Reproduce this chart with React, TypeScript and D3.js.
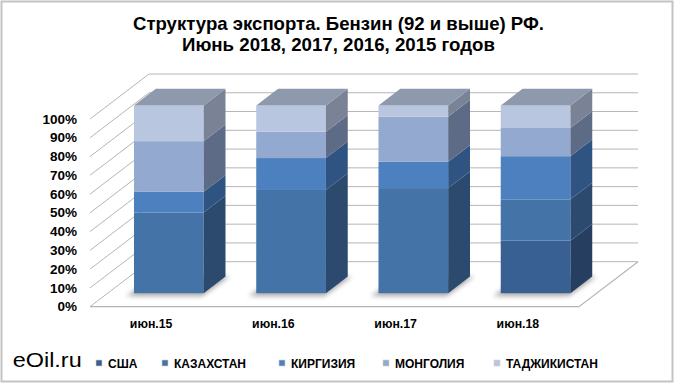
import React from 'react';
import * as d3 from 'd3';

// категории и доли экспорта, %
const categories = ['июн.15', 'июн.16', 'июн.17', 'июн.18'];
const seriesNames = ['США', 'КАЗАХСТАН', 'КИРГИЗИЯ', 'МОНГОЛИЯ', 'ТАДЖИКИСТАН'];
const usa = [0, 0, 0, 28];
const kazakhstan = [43, 55, 56, 22];
const kyrgyzstan = [11, 17, 14, 23];
const mongolia = [27, 14, 24, 15];
const tajikistan = [19, 14, 6, 12];
const yTicks = [0, 10, 20, 30, 40, 50, 60, 70, 80, 90, 100];

const frontColors = ['#386092', '#4473a8', '#4d80bf', '#94a9d0', '#b9c6e0'];
const sideColors = ['#263f60', '#2c4a6e', '#2f5482', '#5d6b86', '#7a8396'];
const legendX = [96, 162, 279, 383, 494];

const font = '"Liberation Sans", Arial, sans-serif';

const App = () => {
  const width = 680;
  const height = 385;
  const x0 = 90;
  const x1 = 579;
  const DX = 59;
  const DY = 45;
  const dFront = 0.3;
  const dBack = 0.67;

  const yScale = d3.scaleLinear().domain([0, 100]).range([306.7, 119]);
  const xScale = d3.scaleBand<string>()
    .domain(categories)
    .range([x0, x1])
    .paddingInner(0.43)
    .paddingOuter(0.215);
  const bw = xScale.bandwidth();

  const proj = (x: number, v: number, d: number): [number, number] =>
    [x + d * DX, yScale(v) - d * DY];
  const poly = (pts: [number, number][]) => pts.map(p => p.join(',')).join(' ');

  const series = [usa, kazakhstan, kyrgyzstan, mongolia, tajikistan];
  const rows = categories.map((c, i) => {
    const r: any = { cat: c };
    seriesNames.forEach((s, k) => { r[s] = series[k][i]; });
    return r;
  });
  const stacked = d3.stack<any>().keys(seriesNames)(rows);

  const grid = yTicks.map(v => {
    const a = proj(x0, v, 0);
    const b = proj(x0, v, 1);
    const c = proj(x1, v, 1);
    return (
      <g key={'g' + v}>
        <polyline points={poly([a, b, c])} fill="none" stroke="#b5b5b5" strokeWidth={1} />
        <text x={77} y={a[1] + 4.6} textAnchor="end" fontFamily={font} fontWeight="bold" fontSize={13.5} fill="#000">
          {v}%
        </text>
      </g>
    );
  });

  const floor = [proj(x0, 0, 0), proj(x1, 0, 0), proj(x1, 0, 1)];

  const bars = categories.map((c, i) => {
    const xl = xScale(c)!;
    const xr = xl + bw;
    const faces: React.ReactNode[] = [];
    let top = 0;
    stacked.forEach((layer, k) => {
      const [v0, v1] = layer[i];
      if (v1 - v0 <= 0) return;
      top = v1;
      const fl = proj(xl, v1, dFront);
      const fr = proj(xr, v0, dFront);
      faces.push(
        <rect key={'f' + k} x={fl[0]} y={fl[1]} width={fr[0] - fl[0]} height={fr[1] - fl[1]} fill={frontColors[k]} />
      );
      faces.push(
        <polygon key={'s' + k}
          points={poly([proj(xr, v0, dFront), proj(xr, v0, dBack), proj(xr, v1, dBack), proj(xr, v1, dFront)])}
          fill={sideColors[k]} />
      );
    });
    const shadow = [proj(xl - 4, 0, dFront - 0.06), proj(xr + 2, 0, dFront - 0.06), proj(xr + 4, 0, dBack), proj(xl, 0, dBack)];
    const lbl = proj(xl + bw / 2, 0, 0);
    return (
      <g key={c}>
        <polygon points={poly(shadow)} fill="#000" opacity={0.35} filter="url(#blur)" />
        {faces}
        <polygon
          points={poly([proj(xl, top, dFront), proj(xr, top, dFront), proj(xr, top, dBack), proj(xl, top, dBack)])}
          fill="#8f99ad" />
        <text x={lbl[0]} y={lbl[1] + 21.5} textAnchor="middle" fontFamily={font} fontWeight="bold" fontSize={12.3} fill="#000">
          {c}
        </text>
      </g>
    );
  });

  const legend = seriesNames.map((s, k) => (
    <g key={s}>
      <rect x={legendX[k]} y={360} width={6} height={6} fill={frontColors[k]} stroke="#d0d0d0" strokeWidth={0.6} />
      <text x={legendX[k] + 12} y={367.5} fontFamily={font} fontWeight="bold" fontSize={12} fill="#000">{s}</text>
    </g>
  ));

  return (
    <svg width={width} height={height} viewBox={`0 0 ${width} ${height}`}
      style={{ position: 'absolute', left: 0, top: 0, display: 'block' }}>
      <defs>
        <filter id="blur" x="-20%" y="-50%" width="140%" height="200%">
          <feGaussianBlur stdDeviation={2.5} />
        </filter>
      </defs>
      <rect x={0} y={0} width={width} height={height} fill="#fff" />
      <rect x={1.5} y={1.5} width={671} height={380} fill="none" stroke="#c3c3c3" strokeWidth={2} />
      <text x={338.5} y={30} textAnchor="middle" fontFamily={font} fontWeight="bold" fontSize={19}
        textLength={411} lengthAdjust="spacingAndGlyphs">Структура экспорта. Бензин (92 и выше) РФ.</text>
      <text x={338.5} y={51} textAnchor="middle" fontFamily={font} fontWeight="bold" fontSize={19}
        textLength={313} lengthAdjust="spacingAndGlyphs">Июнь 2018, 2017, 2016, 2015 годов</text>
      {grid}
      <polyline points={poly(floor)} fill="none" stroke="#b5b5b5" strokeWidth={1.2} />
      {bars}
      <text x={12.7} y={367} fontFamily={font} fontSize={21} textLength={69} lengthAdjust="spacingAndGlyphs">eOil.ru</text>
      {legend}
    </svg>
  );
};

export default App;
